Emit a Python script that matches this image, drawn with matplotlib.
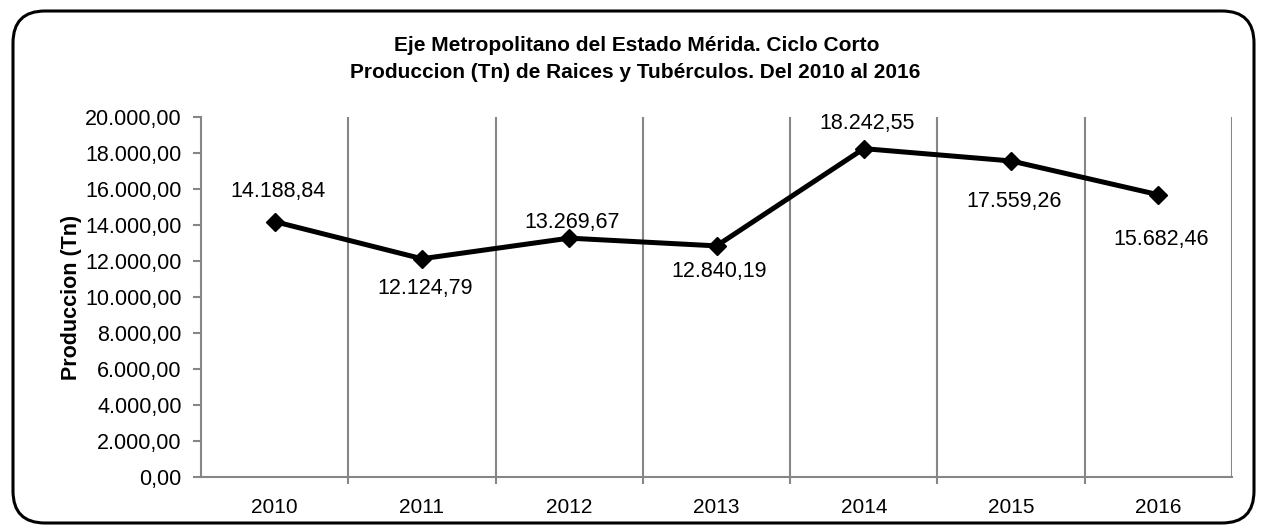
import numpy as np
import matplotlib.pyplot as plt
from matplotlib.patches import FancyBboxPatch
from matplotlib.ticker import FuncFormatter, MultipleLocator

years = ['2010', '2011', '2012', '2013', '2014', '2015', '2016']
production = [14188.84, 12124.79, 13269.67, 12840.19, 18242.55, 17559.26, 15682.46]
# label offsets in pixels (manually placed in the original)
label_dy = [30, -30, 16, -26, 25, -41, -45]

title1 = 'Eje Metropolitano del Estado Mérida. Ciclo Corto'
title2 = 'Produccion (Tn) de Raices y Tubérculos. Del 2010 al 2016'

plt.rcParams['font.family'] = ['Liberation Sans', 'DejaVu Sans']
GRAY = '#868686'


def es_fmt(v, pos=None):
    s = '{:,.2f}'.format(v)
    return s.replace(',', 'X').replace('.', ',').replace('X', '.')


def main():
    W, H = 1261, 529
    fig = plt.figure(figsize=(W / 100, H / 100), dpi=100)

    # rounded frame around the whole chart
    bg = fig.add_axes([0, 0, 1, 1])
    bg.set_xlim(0, W)
    bg.set_ylim(H, 0)
    bg.axis('off')
    frame = FancyBboxPatch((13, 11), 1241, 512, boxstyle='round,pad=0,rounding_size=32',
                           fc='white', ec='black', lw=2.2)
    bg.add_patch(frame)

    ax = fig.add_axes([201 / W, 1 - 477 / H, (1232 - 201) / W, (477 - 117) / H])
    ax.patch.set_alpha(0)
    x = np.arange(len(years))
    ax.plot(x, production, color='black', lw=3.6, marker='D', markersize=9, zorder=3)

    for i, v in enumerate(production):
        ax.annotate(es_fmt(v), (x[i], v), xytext=(3, label_dy[i]), textcoords='offset pixels',
                    ha='center', va='center', fontsize=15.5)

    ax.set_xlim(-0.5, len(years) - 0.5)
    ax.set_ylim(0, 20000)
    ax.yaxis.set_major_locator(MultipleLocator(2000))
    ax.yaxis.set_major_formatter(FuncFormatter(es_fmt))
    ax.set_xticks(x)
    ax.set_xticklabels(years)
    ax.set_xticks(x[:-1] + 0.5, minor=True)
    ax.xaxis.grid(True, which='minor', color=GRAY, lw=1.5)
    ax.axvline(len(years) - 0.5, color=GRAY, lw=1.5)

    for s in ['top', 'right']:
        ax.spines[s].set_visible(False)
    for s in ['left', 'bottom']:
        ax.spines[s].set_color(GRAY)
        ax.spines[s].set_linewidth(1.5)

    ax.tick_params(axis='x', which='major', length=0, pad=15, labelsize=15)
    ax.tick_params(axis='x', which='minor', length=5, width=1.5, color=GRAY)
    ax.tick_params(axis='y', length=6, width=1.5, color=GRAY, pad=8, labelsize=15.5)

    ax.set_ylabel('Produccion (Tn)', fontsize=15.5, fontweight='bold', labelpad=2)

    fig.text(637 / W, 1 - 46 / H, title1, ha='center', va='center', fontsize=15, fontweight='bold')
    fig.text(635 / W, 1 - 72 / H, title2, ha='center', va='center', fontsize=15, fontweight='bold')

    fig.savefig('out.png', dpi=100)


if __name__ == "__main__":
    main()
